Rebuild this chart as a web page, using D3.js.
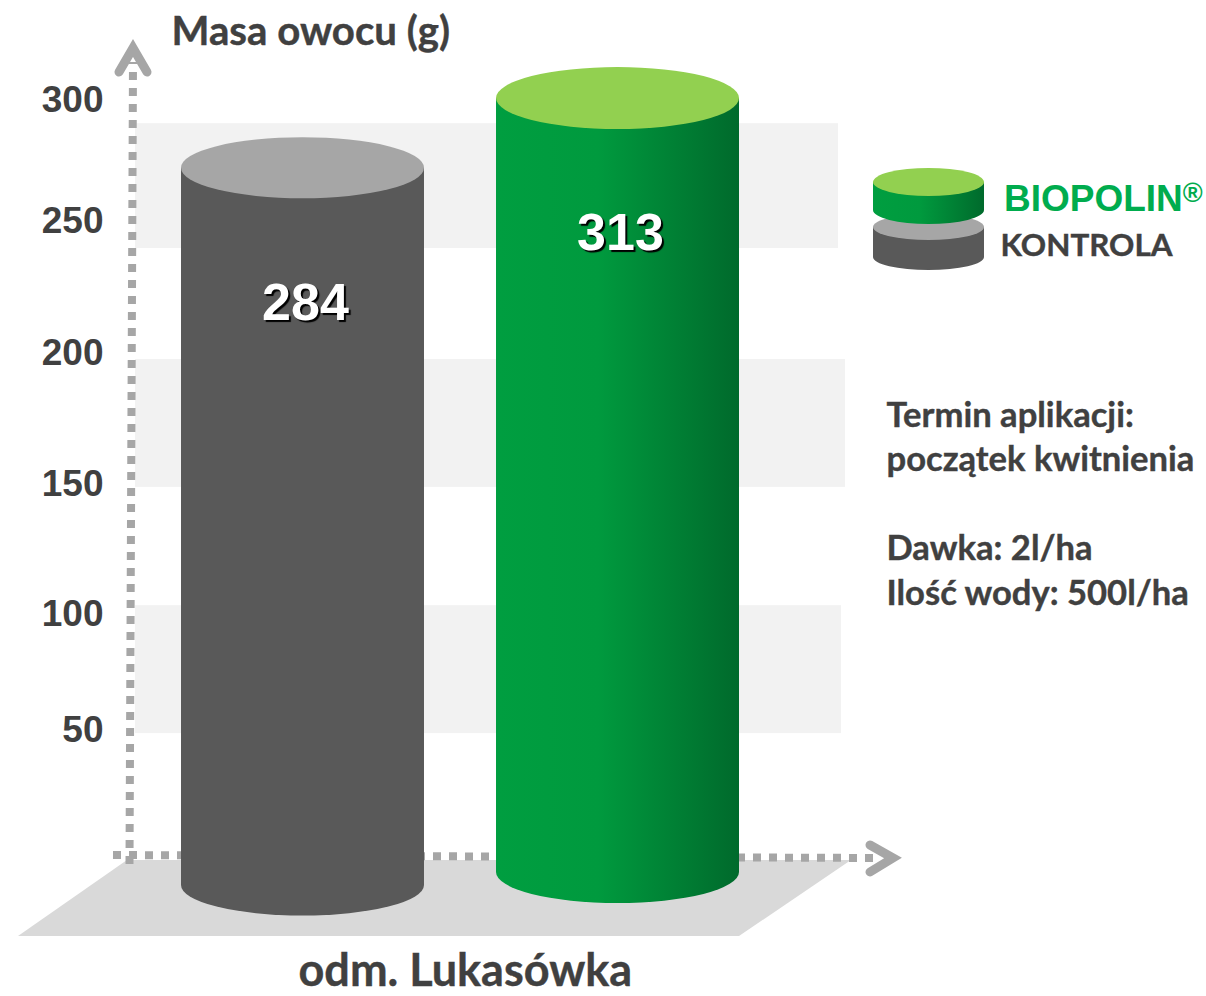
<!DOCTYPE html>
<html><head><meta charset="utf-8">
<script src="https://cdn.jsdelivr.net/npm/d3@7"></script>
<style>
html,body{margin:0;padding:0;background:#fff;overflow:hidden}
svg{display:block}
.cal{font-family:Lato,"Open Sans",sans-serif;font-weight:700;fill:#404040;stroke:#404040;stroke-width:0.4}
.ari{font-family:"Liberation Sans",Arial,sans-serif;font-weight:700}
</style></head><body>
<svg id="c" width="1206" height="996"></svg>
<script>
const tickValues = [50,100,150,200,250,300];
const categories = ["KONTROLA","BIOPOLIN"];
const seriesValues = [284,313];
const bandRanges = [[48.4,103],[148.5,197.3],[239.4,290]];
const axisTitle = "Masa owocu (g)";
const categoryLabel = "odm. Lukasówka";
const noteLines = ["Termin aplikacji:","początek kwitnienia","","Dawka: 2l/ha","Ilość wody: 500l/ha"];

const svg = d3.select("#c");
const y = d3.scaleLinear().domain([0,50,100,150,200,250,300]).range([857,729,613,483,352,220,99]);
const x = d3.scaleBand().domain(categories).range([181,739]).paddingInner(0.2286);

const defs = svg.append("defs");
const mk = (id,stops)=>{const g=defs.append("linearGradient").attr("id",id);
  stops.forEach(s=>g.append("stop").attr("offset",s[0]).attr("stop-color",s[1]));};
mk("gGreen",[[0,"#009e40"],[0.42,"#009a3e"],[1,"#006a2c"]]);

// bands
svg.append("g").selectAll("rect").data(bandRanges).join("rect")
  .attr("x",135).attr("width",(d,i)=>[706,710,703][i])
  .attr("y",d=>y(d[1])).attr("height",d=>y(d[0])-y(d[1])).attr("fill","#f2f2f2");

// floor
svg.append("path").attr("d",d3.line()([[127,860],[851,860],[739,936],[18,936]])+"Z").attr("fill","#d9d9d9");

// axes
const axisCol="#a6a6a6";
svg.append("line").attr("x1",129.5).attr("y1",864).attr("x2",133).attr("y2",62)
  .attr("stroke",axisCol).attr("stroke-width",8).attr("stroke-dasharray","8 8");
svg.append("line").attr("x1",113).attr("y1",855).attr("x2",874).attr("y2",858)
  .attr("stroke",axisCol).attr("stroke-width",8).attr("stroke-dasharray","8 8");
svg.append("path").attr("d",d3.line()([[119,72],[133,48],[147,72]]))
  .attr("fill","none").attr("stroke",axisCol).attr("stroke-width",9).attr("stroke-linecap","round").attr("stroke-linejoin","miter");
svg.append("path").attr("d",d3.line()([[870,845],[893,858],[870,872]]))
  .attr("fill","none").attr("stroke",axisCol).attr("stroke-width",9).attr("stroke-linecap","round").attr("stroke-linejoin","miter");

// ticks
svg.append("g").selectAll("text").data(tickValues).join("text").attr("class","ari")
  .attr("x",103.5).attr("y",d=>y(d)+13).attr("text-anchor","end").attr("font-size",37).attr("fill","#404040").text(d=>d);

// cylinders
function cyl(g,xl,w,top,bottom,ry,body,cap){
  const rx=w/2,cx=xl+rx;
  g.append("path").attr("d",`M${xl},${top}V${bottom}A${rx},${ry} 0 0 0 ${xl+w},${bottom}V${top}Z`).attr("fill",body);
  g.append("ellipse").attr("cx",cx).attr("cy",top).attr("rx",rx).attr("ry",ry).attr("fill",cap);
}
const styles=[{body:"#595959",cap:"#a6a6a6",base:885,ry:30.5},{body:"url(#gGreen)",cap:"#92d050",base:872,ry:31}];
const bars=svg.append("g");
seriesValues.forEach((v,i)=>{
  const s=styles[i];
  cyl(bars,x(categories[i]),x.bandwidth(),y(v)+s.ry-0.5,s.base,s.ry,s.body,s.cap);
});
svg.append("g").selectAll("text").data(seriesValues).join("text").attr("class","ari")
  .attr("x",(d,i)=>x(categories[i])+x.bandwidth()/2+3).attr("y",d=>y(d)+182)
  .attr("text-anchor","middle").attr("font-size",52).attr("fill","#fff")
  .style("text-shadow","2px 2px 1px #000").text(d=>d);

// legend
cyl(svg.append("g"),873,111,227,257,13,"#595959","#a6a6a6");
cyl(svg.append("g"),873,111,182,210,14,"url(#gGreen)","#92d050");
const lg=svg.append("text").attr("class","ari").attr("x",1004).attr("y",211).attr("font-size",37).attr("fill","#00ac4e");
lg.append("tspan").text(categories[1]);
lg.append("tspan").attr("font-size",27).attr("dy",-9).text("®");
svg.append("text").attr("class","cal").attr("x",1000.5).attr("y",256).attr("font-size",31.4).text(categories[0]);

// texts
svg.append("text").attr("class","cal").attr("x",171.5).attr("y",45).attr("font-size",40.2).text(axisTitle);
svg.append("text").attr("class","cal").attr("x",298.5).attr("y",986).attr("font-size",45).text(categoryLabel);
svg.append("g").selectAll("text").data(noteLines).join("text").attr("class","cal")
  .attr("x",886.5).attr("y",(d,i)=>426.5+i*44.6).attr("font-size",34.6).text(d=>d);
</script></body></html>
